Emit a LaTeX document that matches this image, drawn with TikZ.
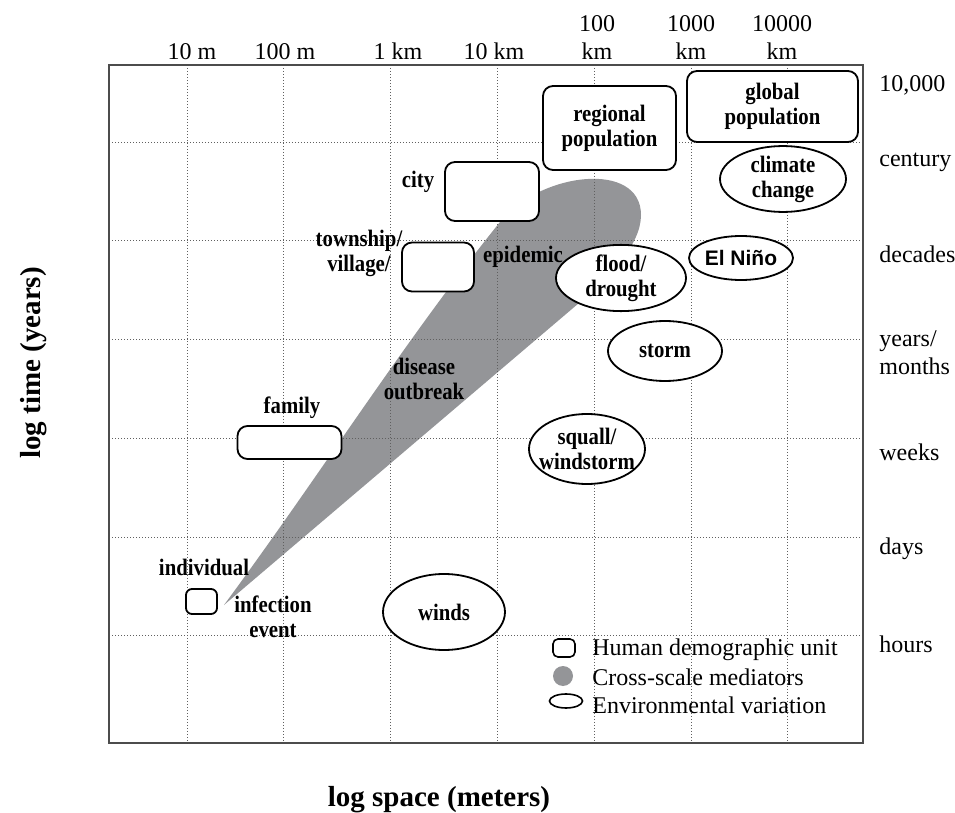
\documentclass[tikz,border=0pt]{standalone}
\usepackage{fontspec}
\setmainfont{Liberation Serif}
\newfontfamily\lblserif{Liberation Serif}[FakeStretch=0.88]
\newfontfamily\lblsans{Liberation Sans}
\usepackage{tikz}
\usetikzlibrary{shapes.geometric}
\definecolor{mediatorgray}{RGB}{148,149,152}
\tikzset{
    gridline/.style={gray!75!black, line width=0.45pt, dash pattern=on 0.6pt off 0.9pt},
    frame/.style={black!70, line width=0.9pt},
    unitbox/.style={draw, line width=0.9pt, rounded corners=5pt, fill=white, inner sep=0pt, align=center, font=\lblserif\bfseries\fontsize{11.8}{12.5}\selectfont},
    envellipse/.style={draw, ellipse, line width=0.9pt, fill=white, inner sep=0pt, align=center, font=\lblserif\bfseries\fontsize{11.8}{12.5}\selectfont},
    lbl/.style={align=center, inner sep=0pt, font=\lblserif\bfseries\fontsize{11.8}{12.5}\selectfont},
    tick/.style={align=center, inner sep=0pt, font=\fontsize{12}{14}\selectfont},
    axistitle/.style={inner sep=0pt, font=\bfseries\fontsize{14.5}{16}\selectfont}
}

\begin{document}
\begin{tikzpicture}[x=0.5pt, y=-0.5pt]
    \useasboundingbox (0,0) rectangle (955,813);
    % === CROSS-SCALE MEDIATOR (behind the grid) ===
    \fill[mediatorgray] (224,605) .. controls (320,475) and (405,340) .. (500,222)
        .. controls (540,172) and (641,160) .. (641,215)
        .. controls (641,245) and (610,275) .. (579,303) -- cycle;
    %
    % === GRID AND FRAME ===
    \draw[gridline] (187,65) -- (187,743) (283,65) -- (283,743) (390,65) -- (390,743)
        (497,65) -- (497,743) (594,65) -- (594,743) (691,65) -- (691,743) (787,65) -- (787,743);
    \draw[gridline] (109,142) -- (863,142) (109,240) -- (863,240) (109,339) -- (863,339)
        (109,438) -- (863,438) (109,537) -- (863,537) (109,635) -- (863,635);
    \draw[frame] (109,65) rectangle (863,743);
    %
    % === SPACE TICKS (top) ===
    \node[tick, anchor=south] (s10m) at (192,60) {10 m};
    \node[tick, anchor=south] (s100m) at (285,60) {100 m};
    \node[tick, anchor=south] (s1km) at (398,60) {1 km};
    \node[tick, anchor=south] (s10km) at (494,60) {10 km};
    \node[tick, anchor=south] (s100km) at (597,60) {100\\km};
    \node[tick, anchor=south] (s1000km) at (691,60) {1000\\km};
    \node[tick, anchor=south] (s10000km) at (782,60) {10000\\km};
    %
    % === TIME TICKS (right) ===
    \node[tick, anchor=west] (t10000) at (879,85) {10,000};
    \node[tick, anchor=west] (tcentury) at (879,162) {century};
    \node[tick, anchor=west] (tdecades) at (879,254) {decades};
    \node[tick, anchor=west, align=left] (tyears) at (879,353) {years/\\months};
    \node[tick, anchor=west] (tweeks) at (879,452) {weeks};
    \node[tick, anchor=west] (tdays) at (879,549) {days};
    \node[tick, anchor=west] (thours) at (879,644) {hours};
    %
    % === AXIS TITLES ===
    \node[axistitle, rotate=90] (ytitle) at (34,363) {log time (years)};
    \node[axistitle] (xtitle) at (439,800) {log space (meters)};
    %
    % === HUMAN DEMOGRAPHIC UNITS ===
    \node[unitbox, minimum width=66.5pt, minimum height=42pt] (regional) at (609.5,128) {regional\\population};
    \node[unitbox, minimum width=85.5pt, minimum height=35.5pt] (global) at (772.5,106.5) {global\\population};
    \node[unitbox, minimum width=47pt, minimum height=29.5pt] (city) at (492,191.5) {};
    \node[unitbox, minimum width=36pt, minimum height=24.5pt] (township) at (438,267) {};
    \node[unitbox, minimum width=52pt, minimum height=16.5pt] (family) at (289.5,442.5) {};
    \node[unitbox, minimum width=15.5pt, minimum height=12.5pt, rounded corners=3pt] (individual) at (201.5,601.5) {};
    \node[lbl] (citylbl) at (418,182) {city};
    \node[lbl] (townshiplbl) at (359,253) {township/\\village/};
    \node[lbl] (familylbl) at (292,408) {family};
    \node[lbl] (individuallbl) at (204,567) {individual};
    %
    % === MEDIATOR LABELS ===
    \node[lbl] (epidemiclbl) at (523,257) {epidemic};
    \node[lbl] (outbreaklbl) at (424,379) {disease\\outbreak};
    \node[lbl] (infectionlbl) at (273,617) {infection\\event};
    %
    % === ENVIRONMENTAL VARIATION ===
    \node[envellipse, minimum width=63pt, minimum height=32pt] (climate) at (783,179) {climate\\change};
    \node[envellipse, minimum width=52pt, minimum height=22pt, font=\lblsans\bfseries\fontsize{10.5}{12}\selectfont] (elnino) at (741,258) {El Niño};
    \node[envellipse, minimum width=65pt, minimum height=30pt] (flood) at (621,278) {flood/\\drought};
    \node[envellipse, minimum width=57pt, minimum height=30pt] (storm) at (665,351) {storm};
    \node[envellipse, minimum width=58pt, minimum height=35pt] (squall) at (587,449) {};
    \node[lbl] (squalllbl) at (squall.center) {squall/\\windstorm};
    \node[envellipse, minimum width=61pt, minimum height=38pt] (winds) at (444,612) {winds};
    %
    % === LEGEND ===
    \node[draw, line width=0.8pt, rounded corners=2.5pt, minimum width=11pt, minimum height=9pt, inner sep=0pt] (keybox) at (564,648) {};
    \node[circle, fill=mediatorgray, minimum size=10pt, inner sep=0pt] (keydot) at (563,676) {};
    \node[draw, ellipse, line width=0.8pt, minimum width=16.5pt, minimum height=7pt, inner sep=0pt] (keyellipse) at (566,701) {};
    \node[tick, anchor=west] (keyboxtxt) at (592,650) {Human demographic unit};
    \node[tick, anchor=west] (keydottxt) at (592,677) {Cross-scale mediators};
    \node[tick, anchor=west] (keyellipsetxt) at (592,705) {Environmental variation};
\end{tikzpicture}
\end{document}
